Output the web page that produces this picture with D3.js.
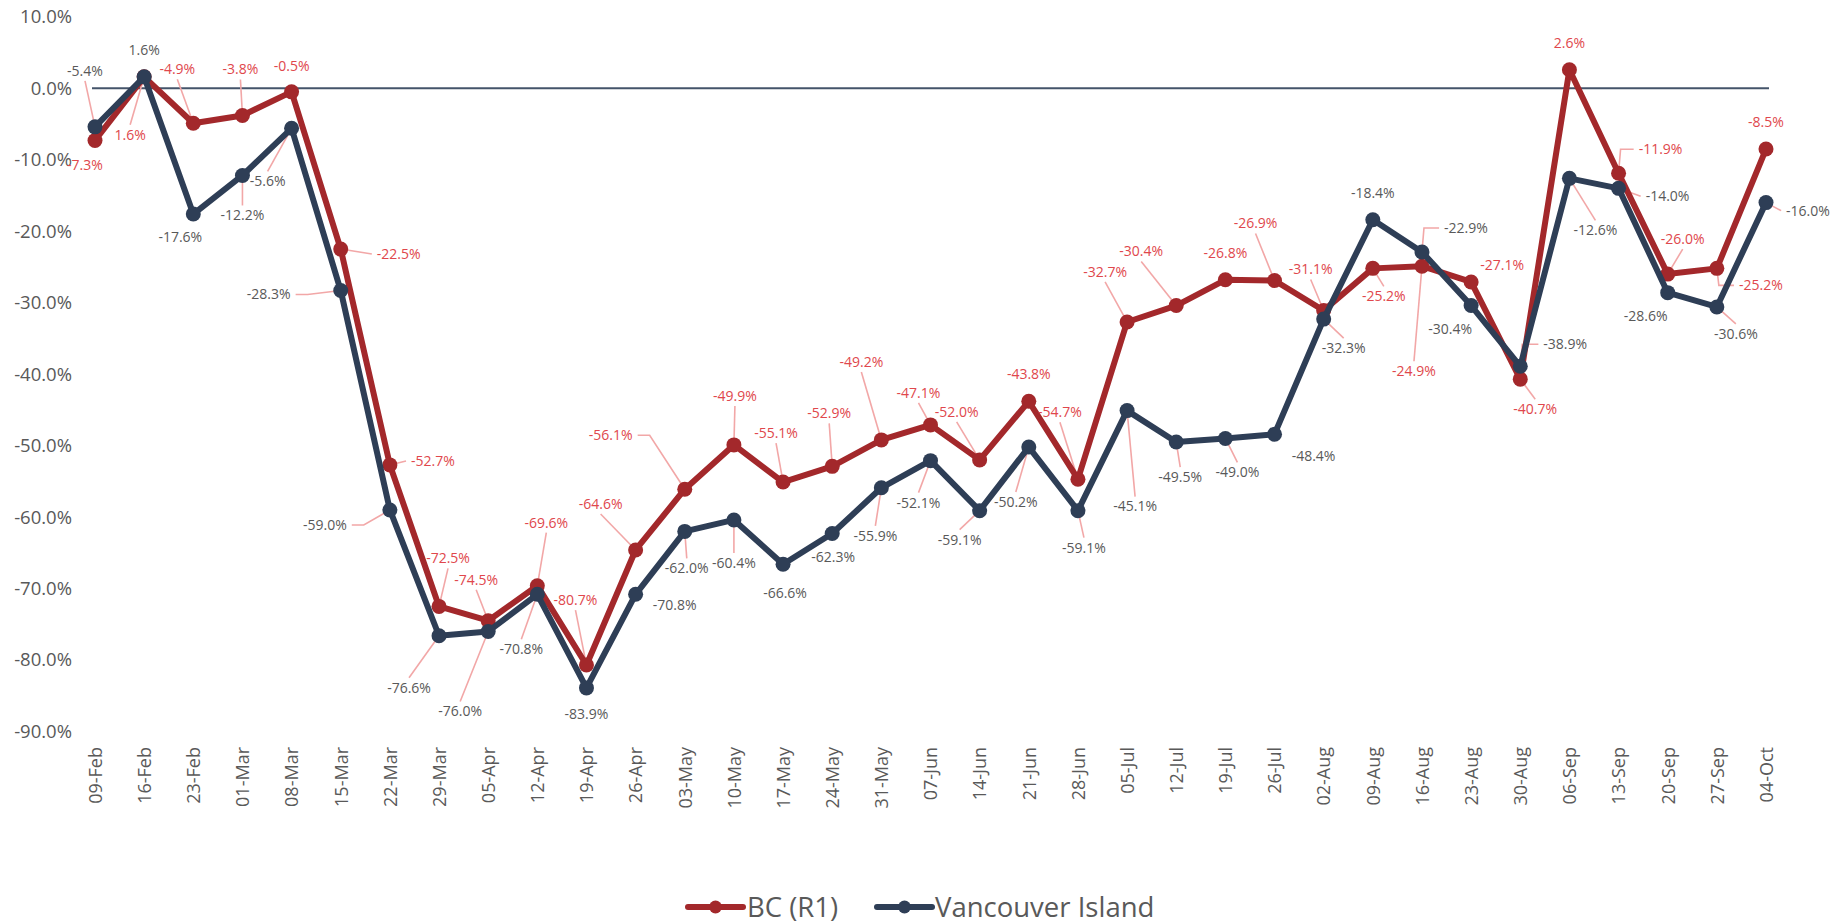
<!DOCTYPE html>
<html>
<head>
<meta charset="utf-8">
<script src="https://cdn.jsdelivr.net/npm/d3@7"></script>
<style>
  body { margin: 0; background: #fff; }
  text { font-family: "Open Sans", "Noto Sans", sans-serif; }
</style>
</head>
<body>
<div class="plot"></div>
<script>
// week labels
var weeks = ["09-Feb", "16-Feb", "23-Feb", "01-Mar", "08-Mar", "15-Mar", "22-Mar", "29-Mar",
  "05-Apr", "12-Apr", "19-Apr", "26-Apr", "03-May", "10-May", "17-May", "24-May", "31-May",
  "07-Jun", "14-Jun", "21-Jun", "28-Jun", "05-Jul", "12-Jul", "19-Jul", "26-Jul", "02-Aug",
  "09-Aug", "16-Aug", "23-Aug", "30-Aug", "06-Sep", "13-Sep", "20-Sep", "27-Sep", "04-Oct"];

// series values (%)
var bcValues = [-7.3, 1.6, -4.9, -3.8, -0.5, -22.5, -52.7, -72.5, -74.5, -69.6, -80.7, -64.6,
  -56.1, -49.9, -55.1, -52.9, -49.2, -47.1, -52.0, -43.8, -54.7, -32.7, -30.4, -26.8, -26.9,
  -31.1, -25.2, -24.9, -27.1, -40.7, 2.6, -11.9, -26.0, -25.2, -8.5];

var viValues = [-5.4, 1.6, -17.6, -12.2, -5.6, -28.3, -59.0, -76.6, -76.0, -70.8, -83.9, -70.8,
  -62.0, -60.4, -66.6, -62.3, -55.9, -52.1, -59.1, -50.2, -59.1, -45.1, -49.5, -49.0, -48.4,
  -32.3, -18.4, -22.9, -30.4, -38.9, -12.6, -14.0, -28.6, -30.6, -16.0];

var seriesNames = ["BC (R1)", "Vancouver Island"];
var yTicks = [10, 0, -10, -20, -30, -40, -50, -60, -70, -80, -90];

// label placement: [dx, dy, leader] relative to the point (s = straight, h = stub, e = elbow)
var bcLabelPos = [[-10, 25, ""], [-14, 58, "s"], [-16, -54, "s"], [-2, -46, "s"], [0, -26, ""],
  [58, 5, "s"], [43, -4, "s"], [9, -48, "s"], [-12, -41, "s"], [9, -63, "s"], [-11, -65, "s"],
  [-35, -46, "s"], [-74, -54, "h"], [1, -49, "s"], [-7, -49, "s"], [-3, -53, "s"], [-20, -78, "s"],
  [-12, -32, "s"], [-23, -48, "s"], [0, -27, ""], [-18, -67, "s"], [-22, -50, "s"], [-35, -54, "s"],
  [0, -27, ""], [-19, -57, "s"], [-13, -41, "s"], [11, 28, "s"], [-8, 105, "s"], [31, -17, ""],
  [15, 30, "s"], [0, -27, ""], [42, -24, "e"], [15, -35, "s"], [44, 17, "e"], [0, -27, ""]];

var viLabelPos = [[-10, -56, "s"], [0, -27, ""], [-13, 23, ""], [0, 40, "s"], [-24, 53, "s"],
  [-72, 4, "h"], [-65, 15, "h"], [-30, 52, "s"], [-28, 80, "s"], [-16, 55, "s"], [0, 26, ""],
  [39, 11, ""], [2, 37, "s"], [0, 43, "s"], [2, 29, ""], [1, 24, ""], [-6, 48, "s"], [-12, 42, "s"],
  [-20, 29, "s"], [-13, 55, "s"], [6, 37, "s"], [8, 96, "s"], [4, 35, "s"], [12, 34, "s"],
  [39, 22, ""], [20, 29, "s"], [0, -27, ""], [44, -24, "e"], [-21, 24, ""], [45, -22, "e"],
  [26, 52, "s"], [49, 8, "s"], [-22, 23, ""], [19, 27, "s"], [42, 8, "s"]];

var svgWidth = 1834;
var svgHeight = 924;

var svg = d3.select(".plot")
  .append("svg")
  .attr("width", svgWidth)
  .attr("height", svgHeight);

var xScale = d3.scalePoint()
  .domain(weeks)
  .range([95, 1766]);

var yScale = d3.scaleLinear()
  .domain([-90, 10])
  .range([731.5, 16.8]);

var fmt = d => d.toFixed(1) + "%";

// y axis
var yAxis = svg.append("g")
  .attr("transform", "translate(80,0)")
  .call(d3.axisLeft(yScale).tickValues(yTicks).tickSize(0).tickPadding(8).tickFormat(fmt));
yAxis.select(".domain").remove();
yAxis.selectAll("text")
  .style("font-size", "18.5px")
  .attr("fill", "#595959");

// x axis labels
var xAxis = svg.append("g")
  .attr("transform", "translate(0,740)")
  .call(d3.axisBottom(xScale).tickSize(0).tickPadding(0));
xAxis.select(".domain").remove();
xAxis.selectAll("text")
  .style("font-size", "18px")
  .attr("fill", "#595959")
  .attr("text-anchor", "end")
  .attr("transform", "rotate(-90)")
  .attr("x", -7)
  .attr("y", 0)
  .attr("dy", "0.35em");

// zero line
svg.append("line")
  .attr("x1", xScale(weeks[0]) - 3)
  .attr("x2", xScale(weeks[weeks.length - 1]) + 3)
  .attr("y1", yScale(0))
  .attr("y2", yScale(0))
  .attr("stroke", "#44546A")
  .attr("stroke-width", 2);

var series = [
  { name: seriesNames[0], values: bcValues, pos: bcLabelPos, color: "#A3282B", labelColor: "#E0474C" },
  { name: seriesNames[1], values: viValues, pos: viLabelPos, color: "#2E3E56", labelColor: "#595959" }
];

var leaderGroup = svg.append("g");
var lineGroup = svg.append("g");
var labelGroup = svg.append("g");

var line = d3.line()
  .x((d, i) => xScale(weeks[i]))
  .y(d => yScale(d));

var labelH = 16;
var gap = 5;

series.forEach(function (s) {
  lineGroup.append("path")
    .datum(s.values)
    .attr("d", line)
    .attr("fill", "none")
    .attr("stroke", s.color)
    .attr("stroke-width", 6)
    .attr("stroke-linejoin", "round");

  lineGroup.selectAll(null)
    .data(s.values)
    .enter()
    .append("circle")
    .attr("cx", (d, i) => xScale(weeks[i]))
    .attr("cy", d => yScale(d))
    .attr("r", 7.5)
    .attr("fill", s.color);

  var labels = labelGroup.selectAll(null)
    .data(s.values)
    .enter()
    .append("text")
    .text(fmt)
    .attr("x", (d, i) => xScale(weeks[i]) + s.pos[i][0])
    .attr("y", (d, i) => yScale(d) + s.pos[i][1])
    .attr("dy", "0.35em")
    .attr("text-anchor", "middle")
    .attr("fill", s.labelColor)
    .style("font-size", "14px");

  // leader lines
  labels.each(function (d, i) {
    var type = s.pos[i][2];
    if (!type) return;
    var px = xScale(weeks[i]), py = yScale(d);
    var dx = s.pos[i][0], dy = s.pos[i][1];
    var lx = px + dx, ly = py + dy;
    var w = this.getComputedTextLength();
    var pts;
    if (type === "e") {
      var ex = dx > 0 ? lx - w / 2 - gap : lx + w / 2 + gap;
      pts = [[px, py], [px + (dx > 0 ? 2 : -2), ly], [ex, ly]];
    } else if (type === "h") {
      var sx = dx > 0 ? lx - w / 2 - gap : lx + w / 2 + gap;
      var sx2 = dx > 0 ? sx - 12 : sx + 12;
      pts = [[sx, ly], [sx2, ly], [px, py]];
    } else if (Math.abs(dy) <= 18) {
      var ax = dx > 0 ? lx - w / 2 - gap : lx + w / 2 + gap;
      pts = [[ax, ly], [px, py]];
    } else {
      var ay = dy < 0 ? ly + labelH / 2 + 2 : ly - labelH / 2 - 2;
      pts = [[lx, ay], [px, py]];
    }
    leaderGroup.append("path")
      .attr("d", d3.line()(pts))
      .attr("fill", "none")
      .attr("stroke", "#F2A7A7")
      .attr("stroke-width", 1.6);
  });
});

// legend
var legendItems = [
  { name: seriesNames[0], color: "#A3282B", x1: 688, x2: 743, tx: 747 },
  { name: seriesNames[1], color: "#2E3E56", x1: 877, x2: 932, tx: 935 }
];
var legendY = 907;
var legend = svg.append("g");
legendItems.forEach(function (item) {
  legend.append("line")
    .attr("x1", item.x1).attr("x2", item.x2)
    .attr("y1", legendY).attr("y2", legendY)
    .attr("stroke", item.color)
    .attr("stroke-width", 6)
    .attr("stroke-linecap", "round");
  legend.append("circle")
    .attr("cx", (item.x1 + item.x2) / 2)
    .attr("cy", legendY)
    .attr("r", 6.5)
    .attr("fill", item.color);
  legend.append("text")
    .attr("x", item.tx)
    .attr("y", legendY)
    .attr("dy", "0.35em")
    .attr("fill", "#595959")
    .style("font-size", "27.5px")
    .text(item.name);
});
</script>
</body>
</html>
